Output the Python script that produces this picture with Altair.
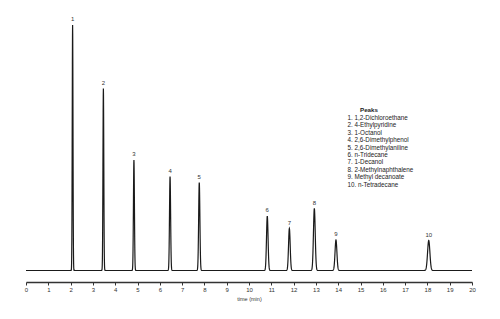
import altair as alt
import numpy as np
import pandas as pd

# Peak table
peak_ids = ["1", "2", "3", "4", "5", "6", "7", "8", "9", "10"]
retention_min = [2.09, 3.47, 4.84, 6.46, 7.77, 10.82, 11.81, 12.93, 13.90, 18.06]
peak_height = [245.5, 182.0, 110.5, 94.0, 88.0, 54.5, 42.0, 62.0, 30.5, 30.0]
peak_width = [0.017, 0.019, 0.022, 0.025, 0.028, 0.035, 0.037, 0.040, 0.042, 0.052]
compound_names = [
    "1,2-Dichloroethane", "4-Ethylpyridine", "1-Octanol", "2,6-Dimethylphenol",
    "2,6-Dimethylaniline", "n-Tridecane", "1-Decanol", "2-Methylnaphthalene",
    "Methyl decanoate", "n-Tetradecane",
]
tick_values = list(range(0, 21))

# Detector trace built from the peak table (Gaussian peak shapes)
t = np.round(np.arange(0, 20.0001, 0.005), 3)
signal = np.zeros_like(t)
for rt, h, w in zip(retention_min, peak_height, peak_width):
    signal += h * np.exp(-0.5 * ((t - rt) / w) ** 2)
trace = pd.DataFrame({"time": t, "signal": signal})

peaks = pd.DataFrame({"id": peak_ids, "time": retention_min, "signal": peak_height})

legend_lines = [f"{i}. {n}" for i, n in zip(peak_ids, compound_names)]
legend_df = pd.DataFrame({"txt": [legend_lines]})
legend_title_df = pd.DataFrame({"txt": ["Peaks"]})

FONT = "Liberation Sans Narrow, Liberation Sans, Arial"

x_scale = alt.Scale(domain=[0, 20], nice=False, zero=False)
y_scale = alt.Scale(domain=[-11.5, 250.5], nice=False, zero=False)
x_axis = alt.Axis(title="time (min)", values=tick_values, format="d",
                  labelOverlap=False, labelFlush=False, labelBound=False,
                  tickSize=3, tickWidth=1, tickColor="#333", domainColor="#333",
                  domainWidth=1.5, labelFontSize=6, labelColor="#333", labelFont=FONT,
                  labelPadding=1, titleFont=FONT, titleFontSize=5.5,
                  titleFontWeight="normal", titleColor="#333", titlePadding=4,
                  grid=False)

line = alt.Chart(trace).mark_line(color="#1a1a1a", strokeWidth=1.2, interpolate="linear").encode(
    x=alt.X("time:Q", scale=x_scale, axis=x_axis),
    y=alt.Y("signal:Q", scale=y_scale, axis=None),
)

labels = alt.Chart(peaks).mark_text(fontSize=6, font=FONT, color="#333", dy=-6, baseline="middle").encode(
    x=alt.X("time:Q", scale=x_scale, axis=x_axis),
    y=alt.Y("signal:Q", scale=y_scale, axis=None),
    text="id:N",
)

legend_title = alt.Chart(legend_title_df).mark_text(
    fontSize=6.2, font=FONT, fontWeight="bold", color="#222", align="left", baseline="middle"
).encode(x=alt.value(334), y=alt.value(90), text="txt:N")

legend_body = alt.Chart(legend_df).mark_text(
    fontSize=6.3, font=FONT, color="#222", align="left", baseline="top", lineHeight=7.4
).encode(x=alt.value(321.5), y=alt.value(95), text="txt")

chart = (line + labels + legend_title + legend_body).properties(
    width=446, height=262,
    autosize=alt.AutoSizeParams(type="none"),
    padding={"left": 26, "top": 20, "right": 28, "bottom": 37},
    background="white",
).configure_view(stroke=None).configure_axisX(labelOverlap=False)

chart.save("out.html", embed_options={"renderer": "svg", "actions": False})
